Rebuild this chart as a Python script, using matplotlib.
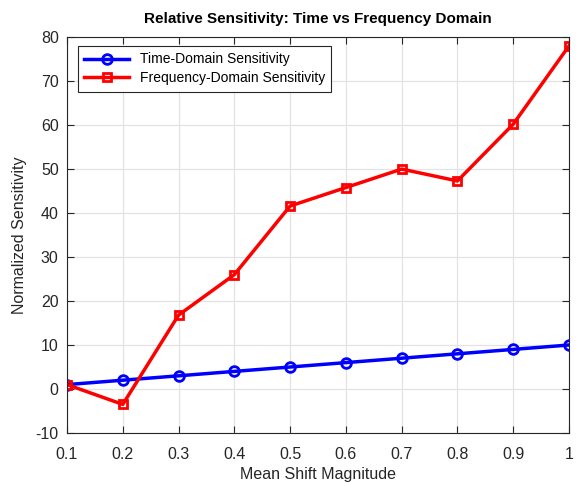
import matplotlib
matplotlib.use("Agg")
import matplotlib.pyplot as plt

plt.rcParams['font.family'] = ['Liberation Sans', 'DejaVu Sans']
plt.rcParams['axes.unicode_minus'] = False

# Mean shift magnitudes and normalized sensitivities
shift = [0.1, 0.2, 0.3, 0.4, 0.5, 0.6, 0.7, 0.8, 0.9, 1.0]
time_sens = [1, 2, 3, 4, 5, 6, 7, 8, 9, 10]
freq_sens = [1.0, -3.5, 16.8, 26.0, 41.6, 45.8, 50.0, 47.3, 60.2, 78.0]
xlabels = ['0.1', '0.2', '0.3', '0.4', '0.5', '0.6', '0.7', '0.8', '0.9', '1']

fig = plt.figure(figsize=(5.77, 4.82), dpi=100)
ax = fig.add_axes([0.1161, 0.1017, 0.8700, 0.8213])

ax.plot(shift, time_sens, color='blue', lw=2.5, marker='o', ms=7,
        mfc='none', mew=2, label='Time-Domain Sensitivity')
ax.plot(shift, freq_sens, color='red', lw=2.5, marker='s', ms=6,
        mfc='none', mew=2, label='Frequency-Domain Sensitivity')

ax.set_xlim(0.1, 1)
ax.set_ylim(-10, 80)
ax.set_xticks(shift)
ax.set_xticklabels(xlabels)
ax.set_yticks(range(-10, 81, 10))
ax.grid(True, color='#e3e3e3', lw=0.9)
ax.set_axisbelow(True)
ax.tick_params(direction='in', top=True, right=True, labelsize=11.5,
               colors='#262626', length=5)
ax.tick_params(axis='x', pad=10)
ax.tick_params(axis='y', pad=6)
for s in ax.spines.values():
    s.set_color('#262626')

ax.set_xlabel('Mean Shift Magnitude', fontsize=11.5, color='#262626', labelpad=4)
ax.set_ylabel('Normalized Sensitivity', fontsize=11.5, color='#262626', labelpad=6)
ax.set_title('Relative Sensitivity: Time vs Frequency Domain', fontsize=11,
             fontweight='bold', pad=10)

leg = ax.legend(loc='upper left', bbox_to_anchor=(0.022, 0.977), fontsize=10,
                fancybox=False, edgecolor='#262626', framealpha=1,
                handlelength=3.2, borderpad=0.45, labelspacing=0.35,
                borderaxespad=0)
leg.get_frame().set_linewidth(0.8)

fig.savefig('out.png', dpi=100)
